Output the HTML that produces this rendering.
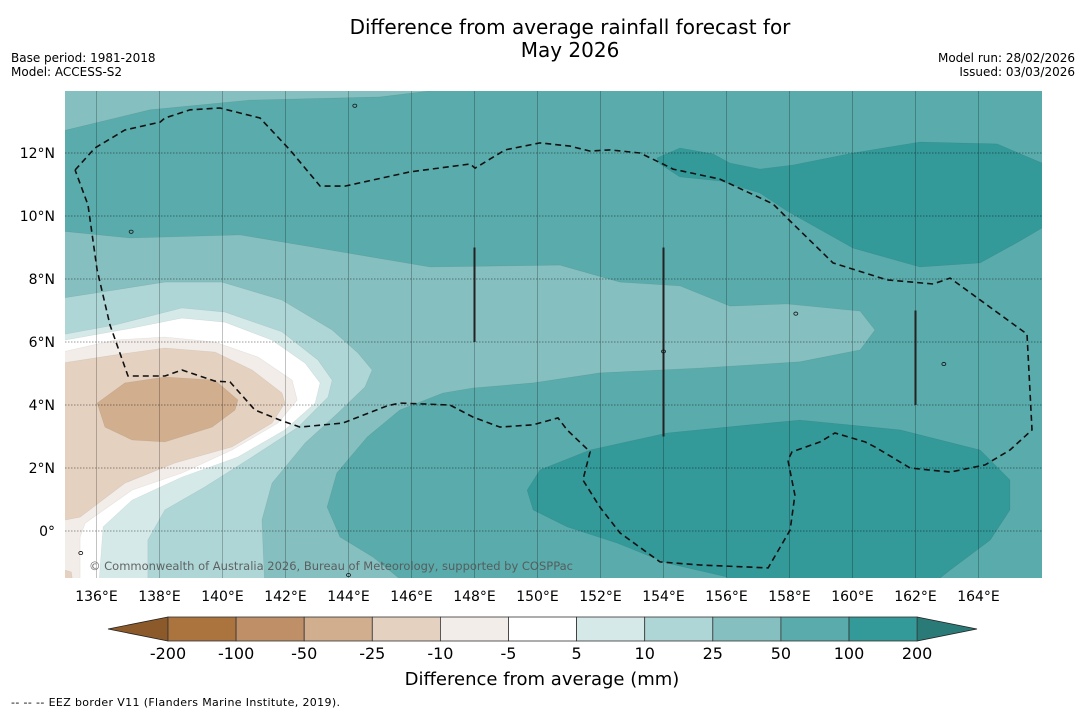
<!DOCTYPE html>
<html><head><meta charset="utf-8"><style>
body{margin:0;background:#fff;font-family:"DejaVu Sans","Liberation Sans",sans-serif;}
svg text{font-family:"DejaVu Sans","Liberation Sans",sans-serif;}
</style></head><body>
<svg id="chart" width="1085" height="713" viewBox="0 0 1085 713" xmlns="http://www.w3.org/2000/svg">
<rect width="1085" height="713" fill="#fff"/>
<text x="570" y="34" font-size="20" text-anchor="middle">Difference from average rainfall forecast for</text>
<text x="570" y="57" font-size="20" text-anchor="middle">May 2026</text>
<text x="11" y="62" font-size="12">Base period: 1981-2018</text>
<text x="11" y="76" font-size="12">Model: ACCESS-S2</text>
<text x="1075" y="62" font-size="12" text-anchor="end">Model run: 28/02/2026</text>
<text x="1075" y="76" font-size="12" text-anchor="end">Issued: 03/03/2026</text>
<defs><clipPath id="mapclip"><rect x="65" y="91" width="977" height="487"/></clipPath></defs>
<g id="map" clip-path="url(#mapclip)">
<rect x="65" y="91" width="977" height="487" fill="#5aabab"/>
</g>
<g id="axes"></g>
<g id="cbar"></g>
<text x="542" y="685" font-size="18" text-anchor="middle">Difference from average (mm)</text>
<text x="11" y="706" font-size="11" textLength="329" lengthAdjust="spacing">--  --  -- EEZ border V11 (Flanders Marine Institute, 2019).</text>
</svg>
<script>
const lonTicks=[136,138,140,142,144,146,148,150,152,154,156,158,160,162,164];
const latTicks=[0,2,4,6,8,10,12];
const levels=["-200","-100","-50","-25","-10","-5","5","10","25","50","100","200"];
const levelColors=["#ab733e","#bf9068","#d0ae8e","#e5d1c0","#f2ede8","#ffffff","#d5eae8","#aed6d6","#86bfbf","#5aabab","#339999"];
const p25top=[[134.5,14.5],[146.59,14.5],[146.59,13.97],[145,13.78],[140.87,13.68],[137.7,13.37],[134.5,12.6]];
const p25=[[134.5,9.56],[137.06,9.3],[140.56,9.4],[143.41,8.92],[146.59,8.38],[150.71,8.44],[152.62,7.9],[154.52,7.78],[156.11,7.14],[157.92,7.21],[160.24,6.98],[160.71,6.38],[160.24,5.75],[158.33,5.37],[155.16,5.17],[151.98,5.02],[149.86,4.7],[147.95,4.54],[147,4.38],[145.63,3.84],[144.59,2.98],[143.63,1.84],[143.32,0.76],[143.73,-0.19],[144.78,-0.83],[145.63,-1.52],[145.8,-2],[134.5,-2]];
const p10=[[134.5,7.33],[136.59,7.65],[138.17,7.9],[139.98,7.9],[141.89,7.33],[143.48,6.38],[144.3,5.65],[144.75,5.11],[144.52,4.57],[143.67,3.75],[142.62,2.79],[141.57,1.52],[141.25,0.35],[141.35,-2],[134.5,-2]];
const p5=[[134.5,6.16],[136.59,6.54],[138.71,7.08],[140.08,6.95],[141.89,6.32],[143.03,5.43],[143.48,4.79],[143.35,4.25],[142.4,3.3],[140.94,2.35],[139.44,1.4],[138.17,0.67],[137.63,-0.29],[137.63,-2],[134.5,-2]];
const pWhite=[[134.5,5.97],[137.13,6.44],[138.71,6.76],[140.08,6.63],[141.57,6.06],[142.62,5.33],[143.1,4.7],[142.94,4.06],[141.98,3.21],[140.49,2.35],[138.71,1.71],[137.13,0.98],[136.21,0.13],[136.05,-2],[134.5,-2]];
const pm5=[[134.5,5.59],[136.59,6.06],[138.17,6.16],[139.76,6],[141.13,5.52],[142.21,4.79],[142.37,4.16],[141.76,3.43],[140.3,2.57],[138.71,1.84],[137.13,1.3],[135.64,0.25],[135.48,-0.19],[135.48,-2],[134.5,-2]];
const pm10=[[134.5,5.27],[136.59,5.59],[138.17,5.81],[139.76,5.68],[140.94,5.11],[141.89,4.38],[141.98,4.06],[141.57,3.43],[140.3,2.67],[138.49,2.16],[136.9,1.52],[135.48,0.44],[134.5,0.25]];
const pm10b=[[134.5,-1.1],[135.2,-1.3],[135.3,-2],[134.5,-2]];
const pm25=[[136.02,4.06],[136.9,4.7],[138.17,4.89],[139.76,4.79],[140.49,4.16],[140.4,3.84],[139.67,3.3],[138.17,2.83],[137.13,2.89],[136.27,3.3]];
const p100b=[[149.67,1.3],[150.08,1.94],[151.67,2.57],[154.11,3.11],[156.75,3.37],[158.33,3.52],[161.51,3.21],[164.05,2.57],[165,1.62],[165,0.67],[164.37,-0.29],[163.1,-1.24],[162.14,-2],[156.02,-2],[156.02,-1.46],[154.11,-1.02],[152.52,-0.38],[150.94,0.13],[149.86,0.67]];
const p100t=[[153.79,11.84],[154.52,12.16],[155.57,11.97],[156.11,11.68],[157.06,11.49],[158.11,11.62],[160.02,12],[162.14,12.35],[164.59,12.29],[166.02,11.68],[166.5,11.5],[166.5,9.5],[166.02,9.62],[165.32,9.21],[164.05,8.51],[162.14,8.38],[160.02,8.98],[157.92,10.16],[157.06,10.73],[155.79,11.11],[154.52,11.24],[153.89,11.65]];
const eez=[[135.32,11.46],[135.95,12.16],[136.9,12.73],[138.02,12.98],[138.17,13.11],[138.97,13.37],[139.92,13.43],[141.19,13.11],[142.14,12.1],[143.1,10.95],[143.89,10.95],[145.95,11.4],[147.86,11.65],[148.02,11.52],[148.97,12.1],[150.08,12.32],[151.03,12.22],[151.67,12.06],[152.3,12.1],[153.25,12],[153.98,11.65],[154.3,11.49],[155.79,11.17],[157.48,10.38],[158.02,9.84],[159.38,8.51],[161.1,7.97],[162.56,7.84],[163.1,8.03],[165.54,6.25],[165.7,3.21],[165,2.57],[164.21,2.1],[163.1,1.87],[161.83,2],[160.71,2.67],[160.4,2.83],[159.44,3.11],[158.97,2.83],[158.08,2.51],[157.95,2.25],[158.17,1.14],[158.02,0.03],[157.32,-1.17],[155.16,-1.08],[153.89,-0.98],[152.62,-0.06],[151.98,0.76],[151.44,1.62],[151.67,2.51],[150.94,3.21],[150.65,3.59],[149.86,3.37],[148.81,3.3],[147.95,3.62],[147.22,4],[145.63,4.06],[145.22,3.97],[143.83,3.43],[142.46,3.3],[141.83,3.52],[141.03,3.84],[140.24,4.73],[139.76,4.76],[138.71,5.11],[138.17,4.92],[137,4.92],[136.43,6.54],[136.02,8.29],[135.73,10.35],[135.32,11.46]];
const segLon=[148,154,162];
const segLat0=[6,3,4];
const segLat1=[9,9,7];

const X=lon=>65+(lon-135)*31.5;
const Y=lat=>531-lat*31.5;
const NS="http://www.w3.org/2000/svg";
const map=document.getElementById('map');
const axes=document.getElementById('axes');
const cbar=document.getElementById('cbar');
function mk(tag,parent,attrs){const e=document.createElementNS(NS,tag);for(const k in attrs)e.setAttribute(k,attrs[k]);parent.appendChild(e);return e;}
function pts(a){return a.map(p=>X(p[0]).toFixed(1)+','+Y(p[1]).toFixed(1)).join(' ');}
const fills=[[p25top,levelColors[8],'contour-25-50-north'],[p25,levelColors[8],'contour-25-50'],[p10,levelColors[7],'contour-10-25'],[p5,levelColors[6],'contour-5-10'],[pWhite,levelColors[5],'contour-near-average'],[pm5,levelColors[4],'contour-minus-5-10'],[pm10,levelColors[3],'contour-minus-10-25'],[pm10b,levelColors[3],'contour-minus-10-25-south'],[pm25,levelColors[2],'contour-minus-25-50'],[p100b,levelColors[10],'contour-100-200-south'],[p100t,levelColors[10],'contour-100-200-north']];
fills.forEach(f=>{
  const e=mk('polygon',map,{points:pts(f[0]),fill:f[1],stroke:'rgba(0,0,0,0.08)','stroke-width':'0.6'});
  
  
});
lonTicks.forEach(l=>{
  const e=mk('line',map,{x1:X(l),x2:X(l),y1:91,y2:578,stroke:'rgba(0,0,0,0.3)','stroke-width':'0.8'});
  
  
});
latTicks.forEach(l=>{
  const e=mk('line',map,{x1:65,x2:1042,y1:Y(l),y2:Y(l),stroke:'rgba(0,0,0,0.4)','stroke-width':'1','stroke-dasharray':'1.5,1.5'});
  
  
});
const ez=mk('polyline',map,{points:pts(eez),fill:'none',stroke:'#111','stroke-width':'1.6','stroke-dasharray':'6,4'});


segLon.forEach((l,i)=>{
  const e=mk('line',map,{x1:X(l),x2:X(l),y1:Y(segLat1[i]),y2:Y(segLat0[i]),stroke:'#222','stroke-width':'2'});
  
  
});
const isl=[[144.2,13.5],[137.1,9.5],[154,5.7],[158.2,6.9],[162.9,5.3],[135.5,-0.7],[144,-1.4]];
isl.forEach(p=>{
  const e=mk('ellipse',map,{cx:X(p[0]),cy:Y(p[1]),rx:2,ry:1.6,fill:'none',stroke:'#111','stroke-width':'0.8'});
  
  
});
const cp=mk('text',map,{x:89,y:570,'font-size':'11.5',fill:'#555','fill-opacity':'0.9',textLength:'484',lengthAdjust:'spacingAndGlyphs'});
cp.textContent='© Commonwealth of Australia 2026, Bureau of Meteorology, supported by COSPPac';


lonTicks.forEach(l=>{
  const t=mk('text',axes,{x:X(l),y:601,'font-size':'14','text-anchor':'middle'});
  t.textContent=l+'°E';
  
  
});
latTicks.forEach(l=>{
  const t=mk('text',axes,{x:55,y:Y(l)+5,'font-size':'14','text-anchor':'end'});
  t.textContent=l===0?'0°':l+'°N';
  
  
});
const cx0=168,cw=68.1,cy=617,ch=24;
const lt=mk('polygon',cbar,{points:`${cx0},${cy} 108,${cy+ch/2} ${cx0},${cy+ch}`,fill:'#8c5a2a',stroke:'#222','stroke-width':'0.8'});


const rx=cx0+cw*levelColors.length;
const rt=mk('polygon',cbar,{points:`${rx},${cy} 977,${cy+ch/2} ${rx},${cy+ch}`,fill:'#2a7a78',stroke:'#222','stroke-width':'0.8'});


levelColors.forEach((c,i)=>{
  const r=mk('rect',cbar,{x:cx0+cw*i,y:cy,width:cw,height:ch,fill:c,stroke:'#333','stroke-width':'0.8'});
  
  
});
levels.forEach((s,i)=>{
  const t=mk('text',cbar,{x:cx0+cw*i,y:659,'font-size':'16','text-anchor':'middle'});
  t.textContent=s;
  
  
});
const fr=mk('rect',axes,{x:65,y:91,width:977,height:487,fill:'none',stroke:'none'});


</script>
</body></html>
